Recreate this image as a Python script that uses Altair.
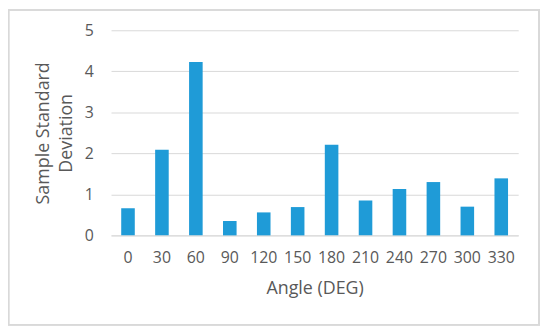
import altair as alt
import pandas as pd

angles = ["0", "30", "60", "90", "120", "150", "180", "210", "240", "270", "300", "330"]
values = [0.66, 2.09, 4.23, 0.35, 0.56, 0.69, 2.21, 0.85, 1.13, 1.30, 0.70, 1.39]

df = pd.DataFrame({"Angle": angles, "SD": values})

FONT = "Open Sans"
TXT = "#595959"
GRID = "#D9D9D9"

bars = alt.Chart(df).mark_bar(color="#1F9BD7").encode(
    x=alt.X("Angle:N", sort=angles,
            scale=alt.Scale(paddingInner=0.6, paddingOuter=0.3),
            axis=alt.Axis(title="Angle (DEG)", labelAngle=0, ticks=False,
                          domainColor=GRID, labelPadding=14, titlePadding=15)),
    y=alt.Y("SD:Q", scale=alt.Scale(domain=[0, 5]),
            axis=alt.Axis(title=["Sample Standard", "Deviation"], tickCount=5,
                          domain=False, ticks=False, gridColor=GRID,
                          labelPadding=18, titlePadding=9, titleLineHeight=23)),
)

frame = alt.Chart(df).mark_rect(fill=None, stroke=GRID, strokeWidth=1.2).encode(
    x=alt.value(-103.5), x2=alt.value(432), y=alt.value(-20.5), y2=alt.value(297)
)

chart = alt.layer(frame, bars).properties(
    width=411, height=207,
    background="white",
    autosize=alt.AutoSizeParams(type="none"),
    padding={"left": 104, "top": 21, "right": 24, "bottom": 93},
).configure_view(stroke=None).configure_axis(
    labelFont=FONT, titleFont=FONT, labelColor=TXT, titleColor=TXT,
    labelFontSize=16, titleFontSize=18, titleFontWeight="normal",
)

chart.save("out.html", embed_options={"renderer": "svg", "actions": False})
